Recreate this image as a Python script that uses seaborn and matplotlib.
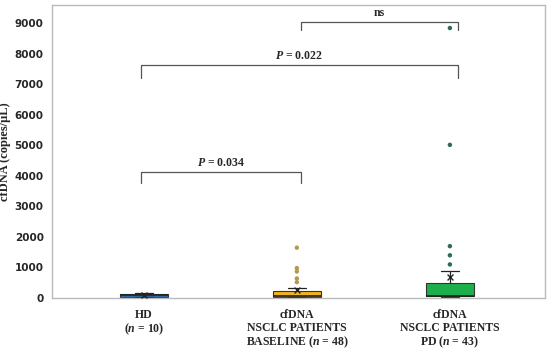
import numpy as np
import pandas as pd
import matplotlib.pyplot as plt
import seaborn as sns

# groups and box summary values (copies/uL)
groups = ["HD", "Baseline", "PD"]
labels = ["HD\n($n$ = 10)",
          "cfDNA\nNSCLC PATIENTS\nBASELINE ($n$ = 48)",
          "cfDNA\nNSCLC PATIENTS\nPD ($n$ = 43)"]
whis_lo = [40, 20, 40]
q1 = [45, 40, 60]
median = [90, 70, 80]
q3 = [125, 230, 500]
whis_hi = [150, 330, 900]
means = [90, 250, 680]
outliers = {
    "HD": [],
    "Baseline": [1650, 980, 870, 640, 520],
    "PD": [8850, 5020, 1700, 1400, 1100],
}
box_colors = ["#2F6EAE", "#F2B321", "#1DAF4C"]
dot_colors = ["#2F6EAE", "#B39A4E", "#2D6B5C"]

sns.set_style("white")
plt.rcParams["mathtext.fontset"] = "custom"
plt.rcParams["mathtext.rm"] = "Liberation Serif:bold"
plt.rcParams["mathtext.it"] = "Liberation Serif:italic:bold"

fig = plt.figure(figsize=(5.5, 3.52), dpi=100)
ax = fig.add_axes([0.0945, 0.1534, 0.896, 0.832])

stats = []
for i, g in enumerate(groups):
    stats.append(dict(whislo=whis_lo[i], q1=q1[i], med=median[i], q3=q3[i],
                      whishi=whis_hi[i], fliers=[], label=g))
bp = ax.bxp(stats, positions=[0, 1, 2], widths=0.31, showfliers=False,
            patch_artist=True,
            medianprops=dict(color="#222222", lw=1.2),
            whiskerprops=dict(color="#222222", lw=0.9),
            capprops=dict(color="#222222", lw=0.9),
            boxprops=dict(edgecolor="#333333", lw=0.8))
for patch, c in zip(bp["boxes"], box_colors):
    patch.set_facecolor(c)
for cap in bp["caps"]:
    x = cap.get_xdata()
    m = x.mean()
    cap.set_xdata([m - 0.06, m + 0.06])

# outliers
out_df = pd.DataFrame([(g, v) for g in groups for v in outliers[g]],
                      columns=["group", "value"])
sns.stripplot(data=out_df, x="group", y="value", hue="group", order=groups,
              hue_order=groups, palette=dict(zip(groups, dot_colors)),
              jitter=False, size=3.2, legend=False, ax=ax, zorder=3)

# means
mean_df = pd.DataFrame({"group": groups, "value": means})
sns.scatterplot(data=mean_df, x="group", y="value", marker="x", color="#222222",
                s=18, linewidth=1.0, ax=ax, zorder=4, legend=False)

ax.set_xlim(-0.6, 2.62)
ax.set_ylim(0, 9600)
ax.set_yticks(np.arange(0, 10000, 1000))
ax.set_yticklabels([str(v) for v in range(0, 10000, 1000)],
                   fontsize=7.5, fontweight="bold", family="DejaVu Sans")
ax.set_xticks([0, 1, 2])
ax.set_xticklabels(labels, fontsize=8.5, fontweight="bold",
                   family="Liberation Serif", linespacing=1.05)
ax.tick_params(axis="both", length=0)
ax.tick_params(axis="y", pad=6)
ax.tick_params(axis="x", pad=8)
ax.set_xlabel("")
ax.set_ylabel("cfDNA (copies/\u03bcL)", fontsize=9, fontweight="bold",
              family="Liberation Serif")
ax.yaxis.set_label_coords(-0.084, 0.5)
for s in ax.spines.values():
    s.set_color("#BBBBBB")
    s.set_linewidth(1.0)

# significance brackets
def bracket(x0, x1, y, drop, text):
    ax.plot([x0, x0, x1, x1], [y - drop, y, y, y - drop], color="#555555", lw=0.9)
    ax.text((x0 + x1) / 2, y + 110, text, ha="center", va="bottom",
            fontsize=8.5, fontweight="bold", family="Liberation Serif")

bracket(-0.02, 1.03, 4130, 360, "$P$ = 0.034")
bracket(-0.02, 2.05, 7640, 430, "$P$ = 0.022")
bracket(1.03, 2.05, 9050, 260, "ns")

fig.savefig("out.png", dpi=100)
